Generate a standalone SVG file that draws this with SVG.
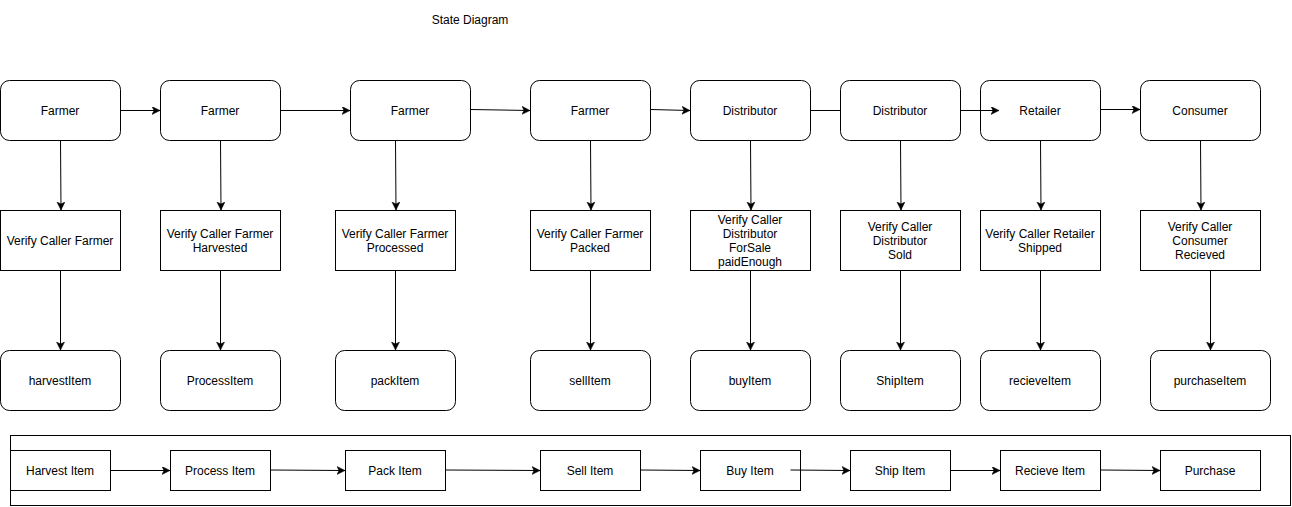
<svg xmlns="http://www.w3.org/2000/svg" width="1292" height="507" viewBox="0 0 1292 507">
<style>
text{font-family:"Liberation Sans",Arial,sans-serif;font-size:12px;fill:#000;text-anchor:middle;dominant-baseline:central}
.n{fill:#fff;stroke:#000;stroke-width:1}
.c{fill:none;stroke:#000;stroke-width:1}
.a{marker-end:url(#ah)}
</style>
<defs>
<marker id="ah" markerWidth="10" markerHeight="10" refX="8" refY="4" orient="auto" markerUnits="userSpaceOnUse">
<path d="M0,0 L8,4 L0,8 L2,4 Z" fill="#000" stroke="#000" stroke-width="0.5"/>
</marker>
</defs>
<rect width="1292" height="507" fill="#fff"/>
<text x="470" y="20">State Diagram</text>
<g id="panel"><rect class="n" x="10.5" y="435.5" width="1280" height="70"/></g>
<g id="top">
<g id="t1"><rect class="n" x="0.5" y="80.5" width="120" height="60" rx="9"/><text x="60" y="110.5">Farmer</text></g>
<g id="t2"><rect class="n" x="160.5" y="80.5" width="120" height="60" rx="9"/><text x="220" y="110.5">Farmer</text></g>
<g id="t3"><rect class="n" x="350.5" y="80.5" width="120" height="60" rx="9"/><text x="410" y="110.5">Farmer</text></g>
<g id="t4"><rect class="n" x="530.5" y="80.5" width="120" height="60" rx="9"/><text x="590" y="110.5">Farmer</text></g>
<g id="t5"><rect class="n" x="690.5" y="80.5" width="120" height="60" rx="9"/><text x="750" y="110.5">Distributor</text></g>
<g id="t6"><rect class="n" x="840.5" y="80.5" width="120" height="60" rx="9"/><text x="900" y="110.5">Distributor</text></g>
<g id="t7"><rect class="n" x="980.5" y="80.5" width="120" height="60" rx="9"/><text x="1040" y="110.5">Retailer</text></g>
<g id="t8"><rect class="n" x="1140.5" y="80.5" width="120" height="60" rx="9"/><text x="1200" y="110.5">Consumer</text></g>
</g>
<g id="mid">
<g id="m1"><rect class="n" x="0.5" y="210.5" width="120" height="60"/><text x="60" y="240.5">Verify Caller Farmer</text></g>
<g id="m2"><rect class="n" x="160.5" y="210.5" width="120" height="60"/><text x="220" y="233.5">Verify Caller Farmer</text><text x="220" y="247.5">Harvested</text></g>
<g id="m3"><rect class="n" x="335.5" y="210.5" width="120" height="60"/><text x="395" y="233.5">Verify Caller Farmer</text><text x="395" y="247.5">Processed</text></g>
<g id="m4"><rect class="n" x="530.5" y="210.5" width="120" height="60"/><text x="590" y="233.5">Verify Caller Farmer</text><text x="590" y="247.5">Packed</text></g>
<g id="m5"><rect class="n" x="690.5" y="210.5" width="120" height="60"/><text x="750" y="219.5">Verify Caller</text><text x="750" y="233.5">Distributor</text><text x="750" y="247.5">ForSale</text><text x="750" y="261.5">paidEnough</text></g>
<g id="m6"><rect class="n" x="840.5" y="210.5" width="120" height="60"/><text x="900" y="226.5">Verify Caller</text><text x="900" y="240.5">Distributor</text><text x="900" y="254.5">Sold</text></g>
<g id="m7"><rect class="n" x="980.5" y="210.5" width="120" height="60"/><text x="1040" y="233.5">Verify Caller Retailer</text><text x="1040" y="247.5">Shipped</text></g>
<g id="m8"><rect class="n" x="1140.5" y="210.5" width="120" height="60"/><text x="1200" y="226.5">Verify Caller</text><text x="1200" y="240.5">Consumer</text><text x="1200" y="254.5">Recieved</text></g>
</g>
<g id="bot">
<g id="b1"><rect class="n" x="0.5" y="350.5" width="120" height="60" rx="9"/><text x="60" y="380.5">harvestItem</text></g>
<g id="b2"><rect class="n" x="160.5" y="350.5" width="120" height="60" rx="9"/><text x="220" y="380.5">ProcessItem</text></g>
<g id="b3"><rect class="n" x="335.5" y="350.5" width="120" height="60" rx="9"/><text x="395" y="380.5">packItem</text></g>
<g id="b4"><rect class="n" x="530.5" y="350.5" width="120" height="60" rx="9"/><text x="590" y="380.5">sellItem</text></g>
<g id="b5"><rect class="n" x="690.5" y="350.5" width="120" height="60" rx="9"/><text x="750" y="380.5">buyItem</text></g>
<g id="b6"><rect class="n" x="840.5" y="350.5" width="120" height="60" rx="9"/><text x="900" y="380.5">ShipItem</text></g>
<g id="b7"><rect class="n" x="980.5" y="350.5" width="120" height="60" rx="9"/><text x="1040" y="380.5">recieveItem</text></g>
<g id="b8"><rect class="n" x="1150.5" y="350.5" width="120" height="60" rx="9"/><text x="1210" y="380.5">purchaseItem</text></g>
</g>
<g id="flow">
<g id="f1"><rect class="n" x="10.5" y="450.5" width="100" height="40"/><text x="60" y="470.5">Harvest Item</text></g>
<g id="f2"><rect class="n" x="170.5" y="450.5" width="100" height="40"/><text x="220" y="470.5">Process Item</text></g>
<g id="f3"><rect class="n" x="345.5" y="450.5" width="100" height="40"/><text x="395" y="470.5">Pack Item</text></g>
<g id="f4"><rect class="n" x="540.5" y="450.5" width="100" height="40"/><text x="590" y="470.5">Sell Item</text></g>
<g id="f5"><rect class="n" x="700.5" y="450.5" width="100" height="40"/><text x="750" y="470.5">Buy Item</text></g>
<g id="f6"><rect class="n" x="850.5" y="450.5" width="100" height="40"/><text x="900" y="470.5">Ship Item</text></g>
<g id="f7"><rect class="n" x="1000.5" y="450.5" width="100" height="40"/><text x="1050" y="470.5">Recieve Item</text></g>
<g id="f8"><rect class="n" x="1160.5" y="450.5" width="100" height="40"/><text x="1210" y="470.5">Purchase</text></g>
</g>
<g id="connectors">
<path class="c a" d="M120.5,110.5 H160"/>
<path class="c a" d="M280.5,110.5 H350"/>
<path class="c a" d="M470.5,109.5 L530,110.5"/>
<path class="c a" d="M650.5,109.5 L690,110.5"/>
<path class="c" d="M810.5,110.5 H840.5"/>
<path class="c a" d="M960.5,110.5 H999"/>
<path class="c a" d="M1100.5,109.5 H1140"/>
<path class="c a" d="M60.5,140.5 L61,210"/>
<path class="c a" d="M220.5,140.5 L221,210"/>
<path class="c a" d="M395.5,140.5 L396,210"/>
<path class="c a" d="M590.5,140.5 L591,210"/>
<path class="c a" d="M750.5,140.5 L751,210"/>
<path class="c a" d="M900.5,140.5 L901,210"/>
<path class="c a" d="M1040.5,140.5 L1041,210"/>
<path class="c a" d="M1200.5,140.5 L1201,210"/>
<path class="c a" d="M60.5,270.5 V350"/>
<path class="c a" d="M220.5,270.5 V350"/>
<path class="c a" d="M395.5,270.5 V350"/>
<path class="c a" d="M590.5,270.5 V350"/>
<path class="c a" d="M750.5,270.5 V350"/>
<path class="c a" d="M900.5,270.5 V350"/>
<path class="c a" d="M1040.5,270.5 V350"/>
<path class="c a" d="M1210.5,270.5 V350"/>
<path class="c a" d="M110.5,470.5 H170"/>
<path class="c a" d="M270.5,470 L345,470.5"/>
<path class="c a" d="M445.5,470 L540,470.5"/>
<path class="c a" d="M640.5,470 L700,470.5"/>
<path class="c a" d="M790.5,470 L850,470.5"/>
<path class="c a" d="M950.5,470.5 H1000"/>
<path class="c a" d="M1100.5,470 L1160,470.5"/>
</g>
</svg>
